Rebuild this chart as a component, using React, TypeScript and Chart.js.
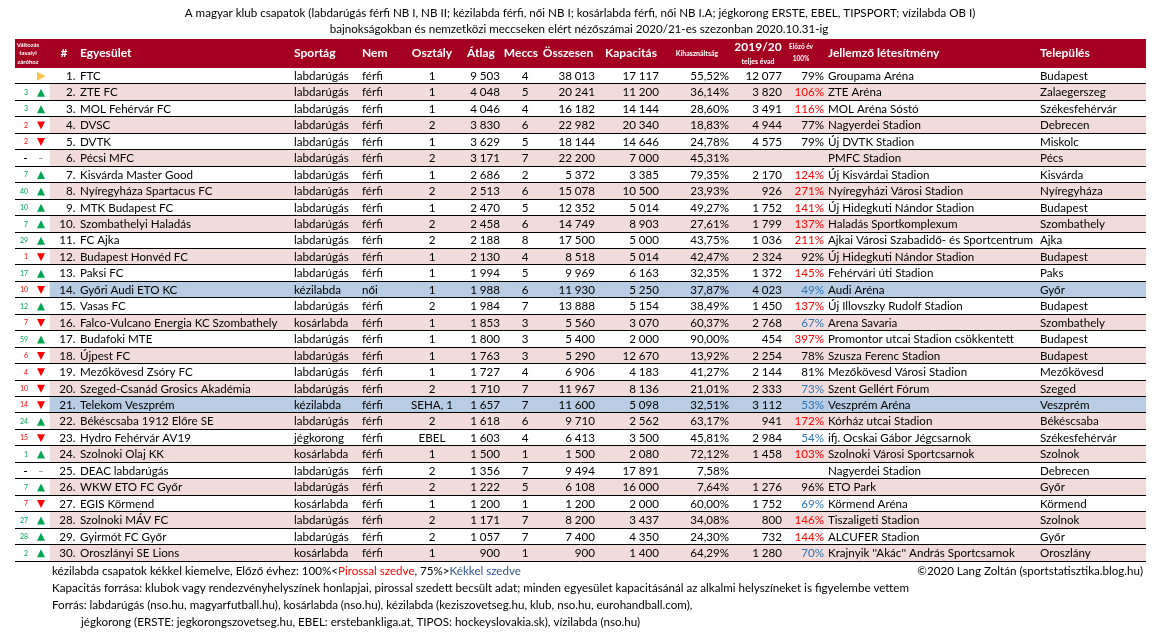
import { useEffect, useRef } from 'react';
import { Chart, registerables } from 'chart.js';

Chart.register(...registerables);

const titleLines = [
  'A magyar klub csapatok (labdarúgás férfi NB I, NB II; kézilabda férfi, női NB I; kosárlabda férfi, női NB I.A; jégkorong ERSTE, EBEL, TIPSPORT; vízilabda OB I)',
  'bajnokságokban és nemzetközi meccseken elért nézőszámai 2020/21-es szezonban 2020.10.31-ig',
];

const changeValues: (number | null)[] = [null, 3, 3, 2, 2, null, 7, 40, 10, 7, 29, 1, 17, 10, 12, 7, 59, 6, 4, 10, 14, 24, 15, 1, null, 7, 7, 27, 28, 2];
const changeDirs = ['same', 'up', 'up', 'down', 'down', 'none', 'up', 'up', 'up', 'up', 'up', 'down', 'up', 'down', 'up', 'down', 'up', 'down', 'down', 'down', 'down', 'up', 'down', 'up', 'none', 'up', 'down', 'up', 'up', 'up'];

const clubs = [
  'FTC', 'ZTE FC', 'MOL Fehérvár FC', 'DVSC', 'DVTK', 'Pécsi MFC', 'Kisvárda Master Good', 'Nyíregyháza Spartacus FC',
  'MTK Budapest FC', 'Szombathelyi Haladás', 'FC Ajka', 'Budapest Honvéd FC', 'Paksi FC', 'Győri Audi ETO KC', 'Vasas FC',
  'Falco-Vulcano Energia KC Szombathely', 'Budafoki MTE', 'Újpest FC', 'Mezőkövesd Zsóry FC', 'Szeged-Csanád Grosics Akadémia',
  'Telekom Veszprém', 'Békéscsaba 1912 Előre SE', 'Hydro Fehérvár AV19', 'Szolnoki Olaj KK', 'DEAC labdarúgás',
  'WKW ETO FC Győr', 'EGIS Körmend', 'Szolnoki MÁV FC', 'Gyirmót FC Győr', 'Oroszlányi SE Lions',
];

const sports = [
  'labdarúgás', 'labdarúgás', 'labdarúgás', 'labdarúgás', 'labdarúgás', 'labdarúgás', 'labdarúgás', 'labdarúgás',
  'labdarúgás', 'labdarúgás', 'labdarúgás', 'labdarúgás', 'labdarúgás', 'kézilabda', 'labdarúgás',
  'kosárlabda', 'labdarúgás', 'labdarúgás', 'labdarúgás', 'labdarúgás',
  'kézilabda', 'labdarúgás', 'jégkorong', 'kosárlabda', 'labdarúgás',
  'labdarúgás', 'kosárlabda', 'labdarúgás', 'labdarúgás', 'kosárlabda',
];

const genders = [
  'férfi', 'férfi', 'férfi', 'férfi', 'férfi', 'férfi', 'férfi', 'férfi', 'férfi', 'férfi',
  'férfi', 'férfi', 'férfi', 'női', 'férfi', 'férfi', 'férfi', 'férfi', 'férfi', 'férfi',
  'férfi', 'férfi', 'férfi', 'férfi', 'férfi', 'férfi', 'férfi', 'férfi', 'férfi', 'férfi',
];

const divisions = ['1', '1', '1', '2', '1', '2', '1', '2', '1', '2', '2', '1', '1', '1', '2', '1', '1', '1', '1', '2', 'SEHA, 1', '2', 'EBEL', '1', '2', '2', '1', '2', '2', '1'];

const averages = [9503, 4048, 4046, 3830, 3629, 3171, 2686, 2513, 2470, 2458, 2188, 2130, 1994, 1988, 1984, 1853, 1800, 1763, 1727, 1710, 1657, 1618, 1603, 1500, 1356, 1222, 1200, 1171, 1057, 900];

const matches = [4, 5, 4, 6, 5, 7, 2, 6, 5, 6, 8, 4, 5, 6, 7, 3, 3, 3, 4, 7, 7, 6, 4, 1, 7, 5, 1, 7, 7, 1];

const totals = [38013, 20241, 16182, 22982, 18144, 22200, 5372, 15078, 12352, 14749, 17500, 8518, 9969, 11930, 13888, 5560, 5400, 5290, 6906, 11967, 11600, 9710, 6413, 1500, 9494, 6108, 1200, 8200, 7400, 900];

const capacities = [17117, 11200, 14144, 20340, 14646, 7000, 3385, 10500, 5014, 8903, 5000, 5014, 6163, 5250, 5154, 3070, 2000, 12670, 4183, 8136, 5098, 2562, 3500, 2080, 17891, 16000, 2000, 3437, 4350, 1400];

const utilization = [55.52, 36.14, 28.6, 18.83, 24.78, 45.31, 79.35, 23.93, 49.27, 27.61, 43.75, 42.47, 32.35, 37.87, 38.49, 60.37, 90.0, 13.92, 41.27, 21.01, 32.51, 63.17, 45.81, 72.12, 7.58, 7.64, 60.0, 34.08, 24.3, 64.29];

const prevSeason: (number | null)[] = [12077, 3820, 3491, 4944, 4575, null, 2170, 926, 1752, 1799, 1036, 2324, 1372, 4023, 1450, 2768, 454, 2254, 2144, 2333, 3112, 941, 2984, 1458, null, 1276, 1752, 800, 732, 1280];

const prevPct: (number | null)[] = [79, 106, 116, 77, 79, null, 124, 271, 141, 137, 211, 92, 145, 49, 137, 67, 397, 78, 81, 73, 53, 172, 54, 103, null, 96, 69, 146, 144, 70];

const venues = [
  'Groupama Aréna', 'ZTE Aréna', 'MOL Aréna Sóstó', 'Nagyerdei Stadion', 'Új DVTK Stadion', 'PMFC Stadion',
  'Új Kisvárdai Stadion', 'Nyíregyházi Városi Stadion', 'Új Hidegkuti Nándor Stadion', 'Haladás Sportkomplexum',
  'Ajkai Városi Szabadidő- és Sportcentrum', 'Új Hidegkuti Nándor Stadion', 'Fehérvári úti Stadion', 'Audi Aréna',
  'Új Illovszky Rudolf Stadion', 'Arena Savaria', 'Promontor utcai Stadion csökkentett', 'Szusza Ferenc Stadion',
  'Mezőkövesd Városi Stadion', 'Szent Gellért Fórum', 'Veszprém Aréna', 'Kórház utcai Stadion',
  'ifj. Ocskai Gábor Jégcsarnok', 'Szolnoki Városi Sportcsarnok', 'Nagyerdei Stadion', 'ETO Park', 'Körmend Aréna',
  'Tiszaligeti Stadion', 'ALCUFER Stadion', "Krajnyik ''Akác'' András Sportcsarnok",
];

const towns = [
  'Budapest', 'Zalaegerszeg', 'Székesfehérvár', 'Debrecen', 'Miskolc', 'Pécs', 'Kisvárda', 'Nyíregyháza', 'Budapest',
  'Szombathely', 'Ajka', 'Budapest', 'Paks', 'Győr', 'Budapest', 'Szombathely', 'Budapest', 'Budapest', 'Mezőkövesd',
  'Szeged', 'Veszprém', 'Békéscsaba', 'Székesfehérvár', 'Szolnok', 'Debrecen', 'Győr', 'Körmend', 'Szolnok', 'Győr',
  'Oroszlány',
];

const footerLine2 = 'Kapacitás forrása: klubok vagy rendezvényhelyszínek honlapjai, pirossal szedett becsült adat; minden egyesület kapacitásánál az alkalmi helyszíneket is figyelembe vettem';
const footerLine3 = 'Forrás: labdarúgás (nso.hu, magyarfutball.hu), kosárlabda (nso.hu), kézilabda (keziszovetseg.hu, klub, nso.hu, eurohandball.com),';
const footerLine4 = 'jégkorong (ERSTE: jegkorongszovetseg.hu, EBEL: erstebankliga.at, TIPOS: hockeyslovakia.sk), vízilabda (nso.hu)';
const copyright = '©2020 Lang Zoltán (sportstatisztika.blog.hu)';

const FONT = 'Lato';
const BODY = `11.6px ${FONT}`;
const W = 1159;
const H = 632;
const LEFT = 15;
const RIGHT = 1146;
const HEADER_TOP = 39;
const ROWS_TOP = 68;
const ROWS_BOTTOM = 561.5;

const COL = {
  chgRight: 28,
  arrow: 41,
  shadeStart: 50,
  rankRight: 75.5,
  name: 80,
  sport: 294,
  gender: 362,
  div: 432,
  avgRight: 500,
  matches: 525,
  totalRight: 595,
  capRight: 659,
  utilRight: 729,
  prevRight: 782,
  pctRight: 824,
  venue: 828,
  town: 1040,
};

const fmt = (n: number) => String(n).replace(/\B(?=(\d{3})+(?!\d))/g, ' ');
const pctColor = (p: number) => (p >= 100 ? '#FF0000' : p < 75 ? '#2E75B6' : '#000000');
const rowColor = (i: number) => (sports[i] === 'kézilabda' ? '#B8CCE4' : i % 2 === 1 ? '#F2DCDB' : '#FFFFFF');

const tablePlugin = {
  id: 'tableText',
  afterDatasetsDraw(chart: any) {
    const ctx: CanvasRenderingContext2D = chart.ctx;
    const x = chart.scales.x;
    const y = chart.scales.y;
    const px = (v: number) => x.getPixelForValue(v);
    const rowH = Math.abs(y.getPixelForValue(1) - y.getPixelForValue(0));
    ctx.save();

    // title
    ctx.fillStyle = '#000';
    ctx.textAlign = 'center';
    ctx.textBaseline = 'middle';
    ctx.font = BODY;
    ctx.fillText(titleLines[0], 580, 13);
    ctx.fillText(titleLines[1], 579, 29);

    // header
    ctx.fillStyle = '#A50021';
    ctx.fillRect(px(LEFT), HEADER_TOP, px(RIGHT) - px(LEFT), ROWS_TOP - HEADER_TOP);
    ctx.fillStyle = '#FFFFFF';
    const hy = (HEADER_TOP + ROWS_TOP) / 2;
    ctx.font = `bold 6px ${FONT}`;
    ctx.textAlign = 'center';
    ctx.fillText('Változás', px(28), hy - 8.5);
    ctx.fillText('tavalyi', px(28), hy);
    ctx.fillText('záróhoz', px(28), hy + 8.5);
    ctx.font = `bold 12px ${FONT}`;
    ctx.fillText('#', px(64), hy);
    ctx.textAlign = 'left';
    ctx.fillText('Egyesület', px(COL.name), hy);
    ctx.fillText('Sportág', px(COL.sport), hy);
    ctx.fillText('Nem', px(COL.gender), hy);
    ctx.textAlign = 'center';
    ctx.fillText('Osztály', px(COL.div), hy);
    ctx.fillText('Átlag', px(481), hy);
    ctx.fillText('Meccs', px(521), hy);
    ctx.fillText('Összesen', px(568), hy);
    ctx.fillText('Kapacitás', px(631), hy);
    ctx.fillText('2019/20', px(758), hy - 6);
    ctx.font = `bold 7px ${FONT}`;
    ctx.fillText('Kihasználtság', px(697), hy);
    ctx.fillText('teljes évad', px(758), hy + 8);
    ctx.font = `bold 6.5px ${FONT}`;
    ctx.fillText('Előző év', px(801), hy - 7);
    ctx.fillText('100%', px(801), hy + 5);
    ctx.font = `bold 12px ${FONT}`;
    ctx.textAlign = 'left';
    ctx.fillText('Jellemző létesítmény', px(COL.venue), hy);
    ctx.fillText('Település', px(COL.town), hy);

    // rows
    for (let i = 0; i < clubs.length; i++) {
      const cy = y.getPixelForValue(i);
      const bottom = cy + rowH / 2;
      ctx.strokeStyle = '#000';
      ctx.lineWidth = 1;
      ctx.beginPath();
      ctx.moveTo(px(LEFT), Math.round(bottom) - 0.5);
      ctx.lineTo(px(RIGHT), Math.round(bottom) - 0.5);
      ctx.stroke();

      const dir = changeDirs[i];
      const up = dir === 'up';
      const ax = px(COL.arrow);
      if (dir === 'none') {
        ctx.fillStyle = '#000';
        ctx.fillRect(px(24), Math.round(cy), 3, 1);
        ctx.fillStyle = '#A0A0A0';
        ctx.fillRect(ax - 2, Math.round(cy), 4, 1);
      } else if (dir === 'same') {
        ctx.fillStyle = '#FFC04D';
        ctx.beginPath();
        ctx.moveTo(ax - 4, cy - 4.5);
        ctx.lineTo(ax + 4.5, cy);
        ctx.lineTo(ax - 4, cy + 4.5);
        ctx.closePath();
        ctx.fill();
      } else {
        const col = up ? '#00A650' : '#FF0000';
        const v = changeValues[i];
        if (v !== null) {
          ctx.fillStyle = col;
          ctx.font = `7px ${FONT}`;
          ctx.textAlign = 'right';
          ctx.fillText(String(v), px(COL.chgRight), cy);
        }
        ctx.fillStyle = col;
        ctx.beginPath();
        if (up) {
          ctx.moveTo(ax - 4, cy + 4);
          ctx.lineTo(ax + 4, cy + 4);
          ctx.lineTo(ax, cy - 4);
        } else {
          ctx.moveTo(ax - 4, cy - 4);
          ctx.lineTo(ax + 4, cy - 4);
          ctx.lineTo(ax, cy + 4);
        }
        ctx.closePath();
        ctx.fill();
      }

      ctx.font = BODY;
      ctx.fillStyle = '#000';
      ctx.textAlign = 'right';
      ctx.fillText(`${i + 1}.`, px(COL.rankRight), cy);
      ctx.textAlign = 'left';
      ctx.fillText(clubs[i], px(COL.name), cy);
      ctx.fillText(sports[i], px(COL.sport), cy);
      ctx.fillText(genders[i], px(COL.gender), cy);
      ctx.textAlign = 'center';
      ctx.fillText(divisions[i], px(COL.div), cy);
      ctx.fillText(String(matches[i]), px(COL.matches), cy);
      ctx.textAlign = 'right';
      ctx.fillText(fmt(averages[i]), px(COL.avgRight), cy);
      ctx.fillText(fmt(totals[i]), px(COL.totalRight), cy);
      ctx.fillText(fmt(capacities[i]), px(COL.capRight), cy);
      ctx.fillText(utilization[i].toFixed(2).replace('.', ',') + '%', px(COL.utilRight), cy);
      const pv = prevSeason[i];
      if (pv !== null) ctx.fillText(fmt(pv), px(COL.prevRight), cy);
      const pp = prevPct[i];
      if (pp !== null) {
        ctx.fillStyle = pctColor(pp);
        ctx.fillText(`${pp}%`, px(COL.pctRight), cy);
        ctx.fillStyle = '#000';
      }
      ctx.textAlign = 'left';
      ctx.fillText(venues[i], px(COL.venue), cy);
      ctx.fillText(towns[i], px(COL.town), cy);
    }

    // footer
    ctx.font = BODY;
    ctx.textAlign = 'left';
    let fx = 52;
    const seg = (t: string, c: string, yy: number) => {
      ctx.fillStyle = c;
      ctx.fillText(t, fx, yy);
      fx += ctx.measureText(t).width;
    };
    seg('kézilabda csapatok kékkel kiemelve, Előző évhez: 100%<', '#000', 571);
    seg('Pirossal szedve', '#FF0000', 571);
    seg(', 75%>', '#000', 571);
    seg('Kékkel szedve', '#2F5597', 571);
    ctx.fillStyle = '#000';
    ctx.fillText(footerLine2, 52, 588);
    ctx.fillText(footerLine3, 52, 605);
    ctx.fillText(footerLine4, 81, 622);
    ctx.textAlign = 'right';
    ctx.fillText(copyright, 1143, 571);
    ctx.restore();
  },
};

export default function App() {
  const ref = useRef<HTMLCanvasElement | null>(null);
  useEffect(() => {
    document.body.style.margin = '0';
    let chart: Chart | null = null;
    let cancelled = false;
    const make = () => {
      if (cancelled || !ref.current) return;
      chart = new Chart(ref.current, {
        type: 'bar',
        data: {
          labels: clubs,
          datasets: [
            {
              data: clubs.map(() => [COL.shadeStart, RIGHT]) as any,
              backgroundColor: clubs.map((_, i) => rowColor(i)),
              borderWidth: 0,
              categoryPercentage: 1,
              barPercentage: 1,
            },
          ],
        },
        options: {
          indexAxis: 'y',
          responsive: false,
          animation: false,
          events: [],
          layout: { padding: { top: ROWS_TOP, bottom: H - ROWS_BOTTOM, left: LEFT, right: W - RIGHT } },
          scales: {
            x: { type: 'linear', min: LEFT, max: RIGHT, display: false },
            y: { type: 'category', display: false, offset: true },
          },
          plugins: { legend: { display: false }, tooltip: { enabled: false }, title: { display: false } },
        },
        plugins: [tablePlugin],
      });
    };
    const fonts = (document as any).fonts;
    if (fonts && fonts.load) {
      Promise.all([fonts.load(`12px ${FONT}`), fonts.load(`bold 12px ${FONT}`)]).then(make, make);
    } else {
      make();
    }
    return () => {
      cancelled = true;
      if (chart) chart.destroy();
    };
  }, []);
  return <canvas ref={ref} width={W} height={H} style={{ display: 'block' }} />;
}
